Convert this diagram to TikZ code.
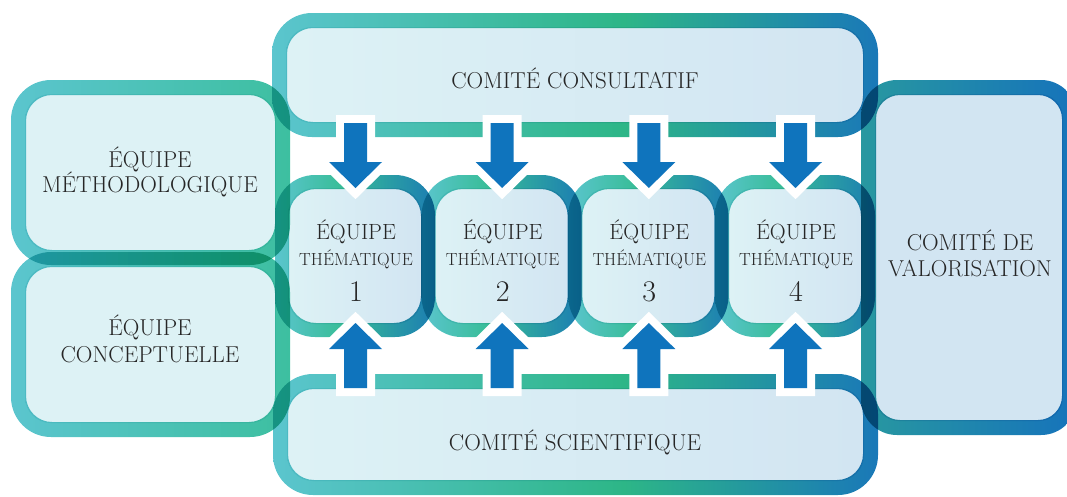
\documentclass[tikz,border=0pt]{standalone}
\usepackage{fontspec}
\definecolor{cyanB}{HTML}{5BC5CE}
\definecolor{greenB}{HTML}{3DBFA0}
\definecolor{greenC}{HTML}{2DB687}
\definecolor{blueC}{HTML}{1A78B8}
\definecolor{greenT}{HTML}{38BD97}
\definecolor{blueT}{HTML}{1C7DB2}
\definecolor{tealV}{HTML}{2898A0}
\definecolor{blueV}{HTML}{1673BB}
\definecolor{fillA}{HTML}{DDF2F5}
\definecolor{fillB}{HTML}{D2E5F2}
\definecolor{arrowblue}{HTML}{0F74BD}
\definecolor{txt}{HTML}{262626}
\pgfdeclarehorizontalshading{ringside}{100bp}{color(0bp)=(cyanB); color(25bp)=(cyanB); color(75bp)=(greenB); color(100bp)=(greenB)}
\pgfdeclarehorizontalshading{ringcomite}{100bp}{color(0bp)=(cyanB); color(25bp)=(cyanB); color(54bp)=(greenC); color(75bp)=(blueC); color(100bp)=(blueC)}
\pgfdeclarehorizontalshading{ringteam}{100bp}{color(0bp)=(cyanB); color(25bp)=(cyanB); color(46bp)=(greenT); color(75bp)=(blueT); color(100bp)=(blueT)}
\pgfdeclarehorizontalshading{ringval}{100bp}{color(0bp)=(tealV); color(25bp)=(tealV); color(75bp)=(blueV); color(100bp)=(blueV)}
% #1 x1 #2 y1 #3 x2 #4 y2 #5 shading #6 outer r #7 inner r #8 width
\newcommand\myring[8]{%
  \shade[shading=#5, even odd rule]
    [rounded corners=#6] (#1,#2) rectangle (#3,#4)
    [rounded corners=#7] ({#1+#8},{#2+#8}) rectangle ({#3-#8},{#4-#8});}
% #1 x1 #2 y1 #3 x2 #4 y2 #5 left fill #6 right fill #7 inner r #8 width
\newcommand\myfill[8]{%
  \shade[left color=#5, right color=#6, rounded corners=#7]
    ({#1+#8-1},{#2+#8-1}) rectangle ({#3-#8+1},{#4-#8+1});}
\newcommand\mydownarrow[1]{%
  ({#1-11.5},123) -- ({#1+11.5},123) -- ({#1+11.5},162) -- ({#1+26.5},162) -- (#1,188) -- ({#1-26.5},162) -- ({#1-11.5},162) -- cycle}
\newcommand\myuparrow[1]{%
  ({#1-11.5},388) -- ({#1+11.5},388) -- ({#1+11.5},349) -- ({#1+26.5},349) -- (#1,323) -- ({#1-26.5},349) -- ({#1-11.5},349) -- cycle}
\tikzset{
  arrowhalo/.style={draw=white, line width=16pt, line join=miter, miter limit=4},
  arrowbody/.style={fill=arrowblue},
  boxtxt/.style={text=txt, anchor=base, inner sep=0pt, font=\fontsize{23pt}{27pt}\selectfont},
  comtxt/.style={text=txt, anchor=base, inner sep=0pt, font=\fontsize{23pt}{27pt}\selectfont},
  teamtxt/.style={text=txt, anchor=base, inner sep=0pt, font=\fontsize{22pt}{26pt}\selectfont},
  thematxt/.style={text=txt, anchor=base, inner sep=0pt, font=\fontsize{17.5pt}{20pt}\selectfont},
  numtxt/.style={text=txt, anchor=base, inner sep=0pt, font=\fontsize{30pt}{34pt}\selectfont},
}
\begin{document}
\begin{tikzpicture}[x=1pt,y=-1pt]
\useasboundingbox (0,0) rectangle (1067,496);
\clip (0,0) rectangle (1067,496);
% fills
\myfill{11}{80}{290}{265}{fillA}{fillA}{26pt}{15}
\myfill{11}{252}{290}{437}{fillA}{fillA}{26pt}{15}
\myfill{272}{13}{878}{137}{fillA}{fillB}{26pt}{15}
\myfill{273}{374}{878}{495}{fillA}{fillB}{26pt}{15}
\myfill{861}{80}{1077}{435}{fillB}{fillB}{24pt}{15}
\foreach \xl in {275,421.667,568.333,715}{
  \myfill{\xl}{175}{\xl+160}{337}{fillA}{fillB}{27pt}{14}
}
% rings
\begin{scope}[blend mode=multiply]
\myring{11}{80}{290}{265}{ringside}{40pt}{26pt}{15}
\myring{11}{252}{290}{437}{ringside}{40pt}{26pt}{15}
\myring{272}{13}{878}{137}{ringcomite}{40pt}{26pt}{15}
\myring{273}{374}{878}{495}{ringcomite}{40pt}{26pt}{15}
\myring{861}{80}{1077}{435}{ringval}{36pt}{24pt}{15}
\foreach \xl in {275,421.667,568.333,715}{
  \myring{\xl}{175}{\xl+160}{337}{ringteam}{40pt}{27pt}{14}
}
\end{scope}
% arrows
\foreach \cx in {355.5,502.167,648.833,795.5}{
  \path[arrowhalo] \mydownarrow{\cx};
  \path[arrowbody] \mydownarrow{\cx};
  \path[arrowhalo] \myuparrow{\cx};
  \path[arrowbody] \myuparrow{\cx};
}
% texts
\node[boxtxt] (meth1) at (150,167) {ÉQUIPE};
\node[boxtxt] (meth2) at (150,192) {MÉTHODOLOGIQUE};
\node[boxtxt] (conc1) at (150,335) {ÉQUIPE};
\node[boxtxt] (conc2) at (150,362) {CONCEPTUELLE};
\node[comtxt] (cons) at (575,88) {COMITÉ CONSULTATIF};
\node[comtxt] (scie) at (575,450) {COMITÉ SCIENTIFIQUE};
\node[boxtxt] (valo1) at (970,250) {COMITÉ DE};
\node[boxtxt] (valo2) at (970,276) {VALORISATION};
\foreach \cx/\n in {356/1,502.667/2,649.333/3,796/4}{
  \node[teamtxt] (teq\n) at (\cx,239) {ÉQUIPE};
  \node[thematxt] (tth\n) at (\cx,265) {THÉMATIQUE};
  \node[numtxt] (tnum\n) at (\cx,301) {\n};
}
\end{tikzpicture}
\end{document}
